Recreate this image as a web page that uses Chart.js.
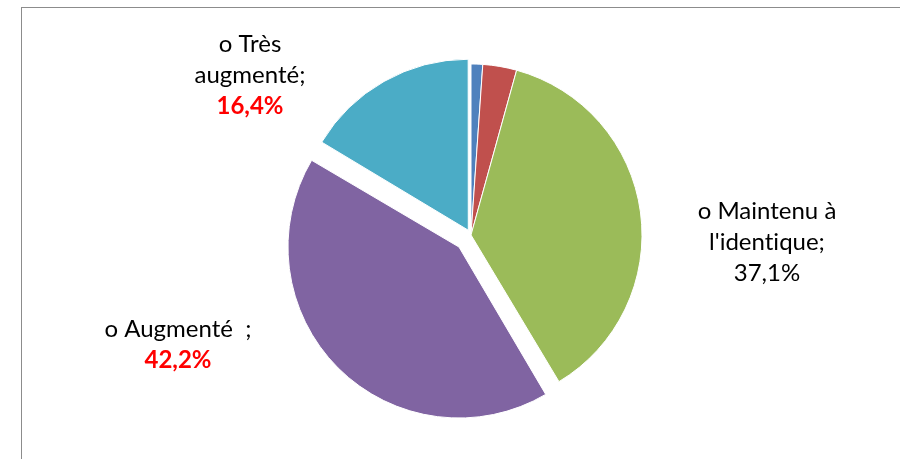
<!DOCTYPE html>
<html>
<head>
<meta charset="utf-8">
<script src="https://cdn.jsdelivr.net/npm/chart.js@4"></script>
<style>
  body { margin: 0; background: #fff; }
  #wrap { position: relative; width: 900px; height: 459px; overflow: hidden; }
  #frame { position: absolute; left: 21px; top: 7px; width: 1000px; height: 600px; border: 1px solid #8c8c8c; }
  canvas { position: absolute; left: 0; top: 0; }
</style>
</head>
<body>
<div id="wrap">
  <div id="frame"></div>
  <canvas id="pieChart" width="900" height="459"></canvas>
</div>
<script>
// Données du graphique
var categories = ["o Très diminué", "o Diminué", "o Maintenu à l'identique", "o Augmenté", "o Très augmenté"];
var values = [1.1, 3.2, 37.1, 42.2, 16.4];
var colors = ["#4F81BD", "#C0504D", "#9BBB59", "#8064A2", "#4BACC6"];
var offsets = [0, 0, 0, 68, 22];

// Étiquettes affichées (lignes de texte, le pourcentage est ajouté à la fin)
var labelLines = [null, null, ["o Maintenu à", "l'identique;"], ["o Augmenté  ;"], ["o Très", "augmenté;"]];
var labelHighlight = [false, false, false, true, true];
// position du centre de l'étiquette / première ligne, par rapport au centre du camembert
var labelPos = [null, null, [296, -16], [-293, 102], [-221, -183]];

var pieRadius = 171;

function fmtPct(v) {
  return v.toFixed(1).replace(".", ",") + "%";
}

// Chart.js agrandit le rayon des parts décalées : on compense pour garder le même rayon
var radiusFix = {
  id: "radiusFix",
  beforeDatasetsDraw: function(chart) {
    var meta = chart.getDatasetMeta(0);
    meta.data.forEach(function(arc, i) {
      var off = (offsets[i] || 0) / 4;
      var circ = arc.endAngle - arc.startAngle;
      var fix = 1 - Math.sin(Math.min(Math.PI, circ));
      arc.outerRadius = pieRadius - off * fix;
    });
  }
};

var labelPlugin = {
  id: "pieLabels",
  afterDatasetsDraw: function(chart) {
    var ctx = chart.ctx;
    var meta = chart.getDatasetMeta(0);
    var cx = meta.data[0].x;
    var cy = meta.data[0].y;
    var lineH = 31;
    ctx.save();
    ctx.textAlign = "center";
    ctx.textBaseline = "alphabetic";
    ctx.textRendering = "optimizeSpeed"; // pas de ligature "ti"
    for (var i = 0; i < values.length; i++) {
      if (!labelLines[i]) continue;
      var x = cx + labelPos[i][0];
      var y = cy + labelPos[i][1];
      var lines = labelLines[i];
      ctx.fillStyle = "#000";
      ctx.font = "24px Lato";
      for (var j = 0; j < lines.length; j++) {
        ctx.fillText(lines[j], x, y + j * lineH);
      }
      if (labelHighlight[i]) {
        ctx.fillStyle = "#FF0000";
        ctx.font = "bold 24px Lato";
      }
      ctx.fillText(fmtPct(values[i]), x, y + lines.length * lineH);
    }
    ctx.restore();
  }
};

var ctx = document.getElementById("pieChart").getContext("2d");
new Chart(ctx, {
  type: "pie",
  data: {
    labels: categories,
    datasets: [{
      data: values,
      backgroundColor: colors,
      borderColor: "#ffffff",
      borderWidth: 1,
      offset: offsets
    }]
  },
  options: {
    responsive: false,
    animation: false,
    radius: pieRadius,
    layout: {
      padding: { left: 42, right: 0, top: 11, bottom: 0 }
    },
    plugins: {
      legend: { display: false },
      tooltip: { enabled: false }
    }
  },
  plugins: [radiusFix, labelPlugin]
});
</script>
</body>
</html>
